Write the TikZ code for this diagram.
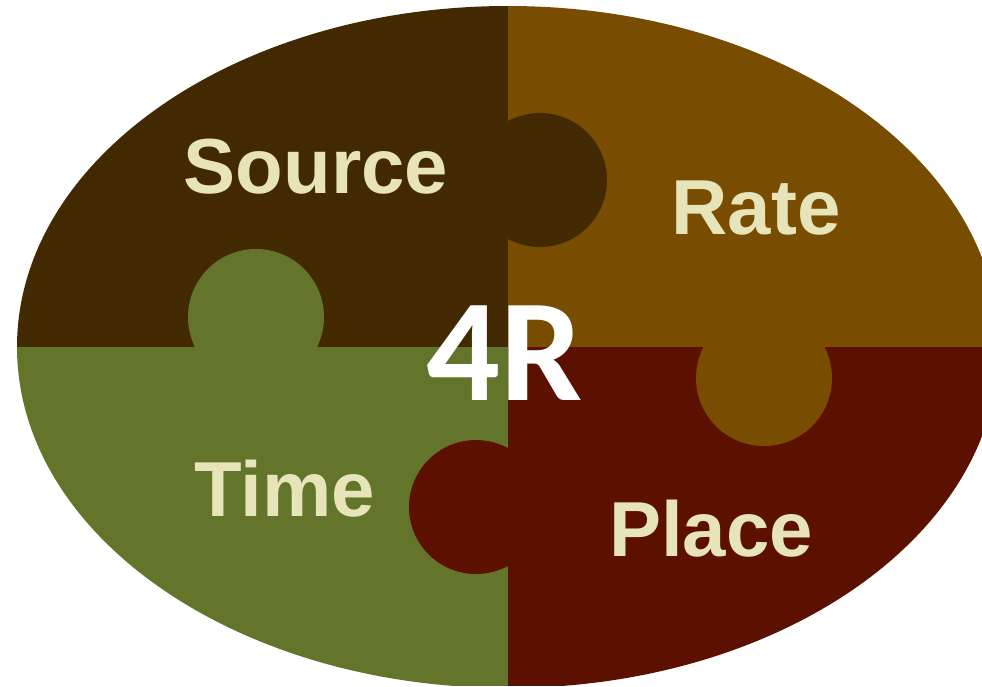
\documentclass[tikz,border=0pt]{standalone}
\usepackage{fontspec}
\setmainfont{Liberation Sans}
\newfontfamily\calfont{Carlito}
\definecolor{srcbrown}{RGB}{66,41,1}
\definecolor{ratebrown}{RGB}{120,76,1}
\definecolor{timegreen}{RGB}{99,117,42}
\definecolor{placered}{RGB}{92,16,0}
\definecolor{cream}{RGB}{230,228,184}
\tikzset{
  label text/.style={text=cream, font=\fontsize{78}{78}\selectfont\bfseries, inner sep=0pt, anchor=base},
  center text/.style={text=white, font=\calfont\fontsize{146}{146}\selectfont\bfseries, inner sep=0pt, anchor=base}
}
\begin{document}
\begin{tikzpicture}[x=1pt,y=-1pt]
\useasboundingbox (0,0) rectangle (982,686);
\begin{scope}
  \clip (0,0) rectangle (982,686);
  \clip (508,347) ellipse [x radius=491, y radius=341];
  % four quarters
  \fill[srcbrown]  (0,0) rectangle (508,347);
  \fill[ratebrown] (508,0) rectangle (982,347);
  \fill[timegreen] (0,347) rectangle (508,686);
  \fill[placered]  (508,347) rectangle (982,686);
  % puzzle tabs
  \fill[srcbrown]  (540,180) circle [radius=67];
  \fill[timegreen] (256,317) circle [radius=68];
  \fill[ratebrown] (764,378) circle [radius=68];
  \fill[placered]  (476,507) circle [radius=67];
\end{scope}
\node[label text] (source) at (316,193) {Source};
\node[label text] (rate)   at (756,234) {Rate};
\node[label text] (time)   at (285,516) {Time};
\node[label text] (place)  at (711,556) {Place};
\node[center text] (fourr) at (505,400) {4R};
\end{tikzpicture}
\end{document}
